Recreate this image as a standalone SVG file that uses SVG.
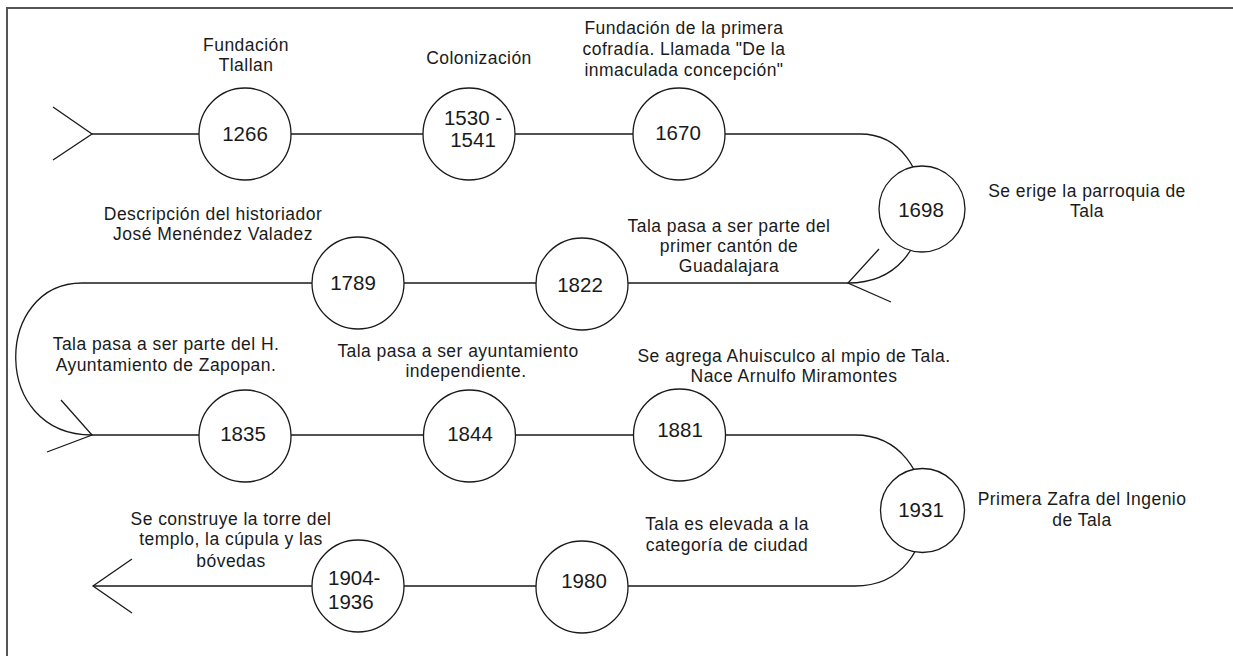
<svg xmlns="http://www.w3.org/2000/svg" width="1233" height="656" viewBox="0 0 1233 656">
<style>
.ln{fill:none;stroke:#1a1a1a;stroke-width:1.3}
.c{fill:#fff;stroke:#1a1a1a;stroke-width:1.3}
.n{font-family:"Liberation Sans",Arial,sans-serif;font-size:20.5px;fill:#1a1a1a;text-anchor:middle}
.l{font-family:"Liberation Sans",Arial,sans-serif;font-size:17.5px;fill:#1a1a1a;text-anchor:middle;letter-spacing:0.45px}
</style>
<rect x="0" y="0" width="1233" height="656" fill="#fff"/>
<rect x="7" y="8" width="1240" height="670" fill="none" stroke="#555" stroke-width="2"/>
<g id="connectors">
<path class="ln" d="M92,134 L860,134 C942,134 948,283 848,283 L82,283 C-6,283 -10,435 92,435 L855,435 C945,435 950,586 855,586 L93,586"/>
<polyline class="ln" points="53,107 92,134 53,160"/>
<polyline class="ln" points="879,249 848,283 891,302"/>
<polyline class="ln" points="61,400 92,435 47,452"/>
<polyline class="ln" points="132,559 93,586 132,613"/>
</g>
<g id="n1266"><circle class="c" cx="245" cy="134" r="46"/><text class="n" x="245" y="141">1266</text>
<text class="l" x="246" y="51">Fundación</text><text class="l" x="246" y="71">Tlallan</text></g>
<g id="n1530"><circle class="c" cx="469" cy="134" r="46"/><text class="n" x="473" y="125">1530 -</text><text class="n" x="473" y="147">1541</text>
<text class="l" x="479" y="64">Colonización</text></g>
<g id="n1670"><circle class="c" cx="679" cy="134" r="46"/><text class="n" x="678" y="140">1670</text>
<text class="l" x="684" y="34">Fundación de la primera</text><text class="l" x="684" y="55">cofradía. Llamada "De la</text><text class="l" x="684" y="76">inmaculada concepción"</text></g>
<g id="n1698"><circle class="c" cx="922" cy="209" r="43"/><text class="n" x="921" y="217">1698</text>
<text class="l" x="1087" y="197">Se erige la parroquia de</text><text class="l" x="1087" y="217">Tala</text></g>
<g id="n1789"><circle class="c" cx="358" cy="283" r="46"/><text class="n" x="353" y="290">1789</text>
<text class="l" x="213" y="220">Descripción del historiador</text><text class="l" x="213" y="240">José Menéndez Valadez</text></g>
<g id="n1822"><circle class="c" cx="582" cy="284" r="46"/><text class="n" x="580" y="292">1822</text>
<text class="l" x="729" y="232">Tala pasa a ser parte del</text><text class="l" x="729" y="252">primer cantón de</text><text class="l" x="729" y="272">Guadalajara</text></g>
<g id="n1835"><circle class="c" cx="245" cy="436" r="46"/><text class="n" x="243" y="441">1835</text>
<text class="l" x="166" y="350">Tala pasa a ser parte del H.</text><text class="l" x="166" y="371">Ayuntamiento de Zapopan.</text></g>
<g id="n1844"><circle class="c" cx="469.5" cy="436" r="46"/><text class="n" x="470" y="441">1844</text>
<text class="l" x="458" y="357">Tala pasa a ser ayuntamiento</text><text class="l" x="466" y="377">independiente.</text></g>
<g id="n1881"><circle class="c" cx="679.5" cy="435" r="46"/><text class="n" x="680" y="437">1881</text>
<text class="l" x="794" y="362">Se agrega Ahuisculco al mpio de Tala.</text><text class="l" x="794" y="382">Nace Arnulfo Miramontes</text></g>
<g id="n1931"><circle class="c" cx="922.5" cy="510.5" r="42"/><text class="n" x="921" y="517">1931</text>
<text class="l" x="1082" y="505">Primera Zafra del Ingenio</text><text class="l" x="1082" y="526">de Tala</text></g>
<g id="n1980"><circle class="c" cx="582" cy="587" r="46"/><text class="n" x="584" y="588">1980</text>
<text class="l" x="727" y="530">Tala es elevada a la</text><text class="l" x="727" y="551">categoría de ciudad</text></g>
<g id="n1904"><circle class="c" cx="358" cy="586" r="46"/><text class="n" x="328" y="585" style="text-anchor:start">1904-</text><text class="n" x="328" y="609" style="text-anchor:start">1936</text>
<text class="l" x="231" y="525">Se construye la torre del</text><text class="l" x="231" y="545">templo, la cúpula y las</text><text class="l" x="231" y="567">bóvedas</text></g>
</svg>
